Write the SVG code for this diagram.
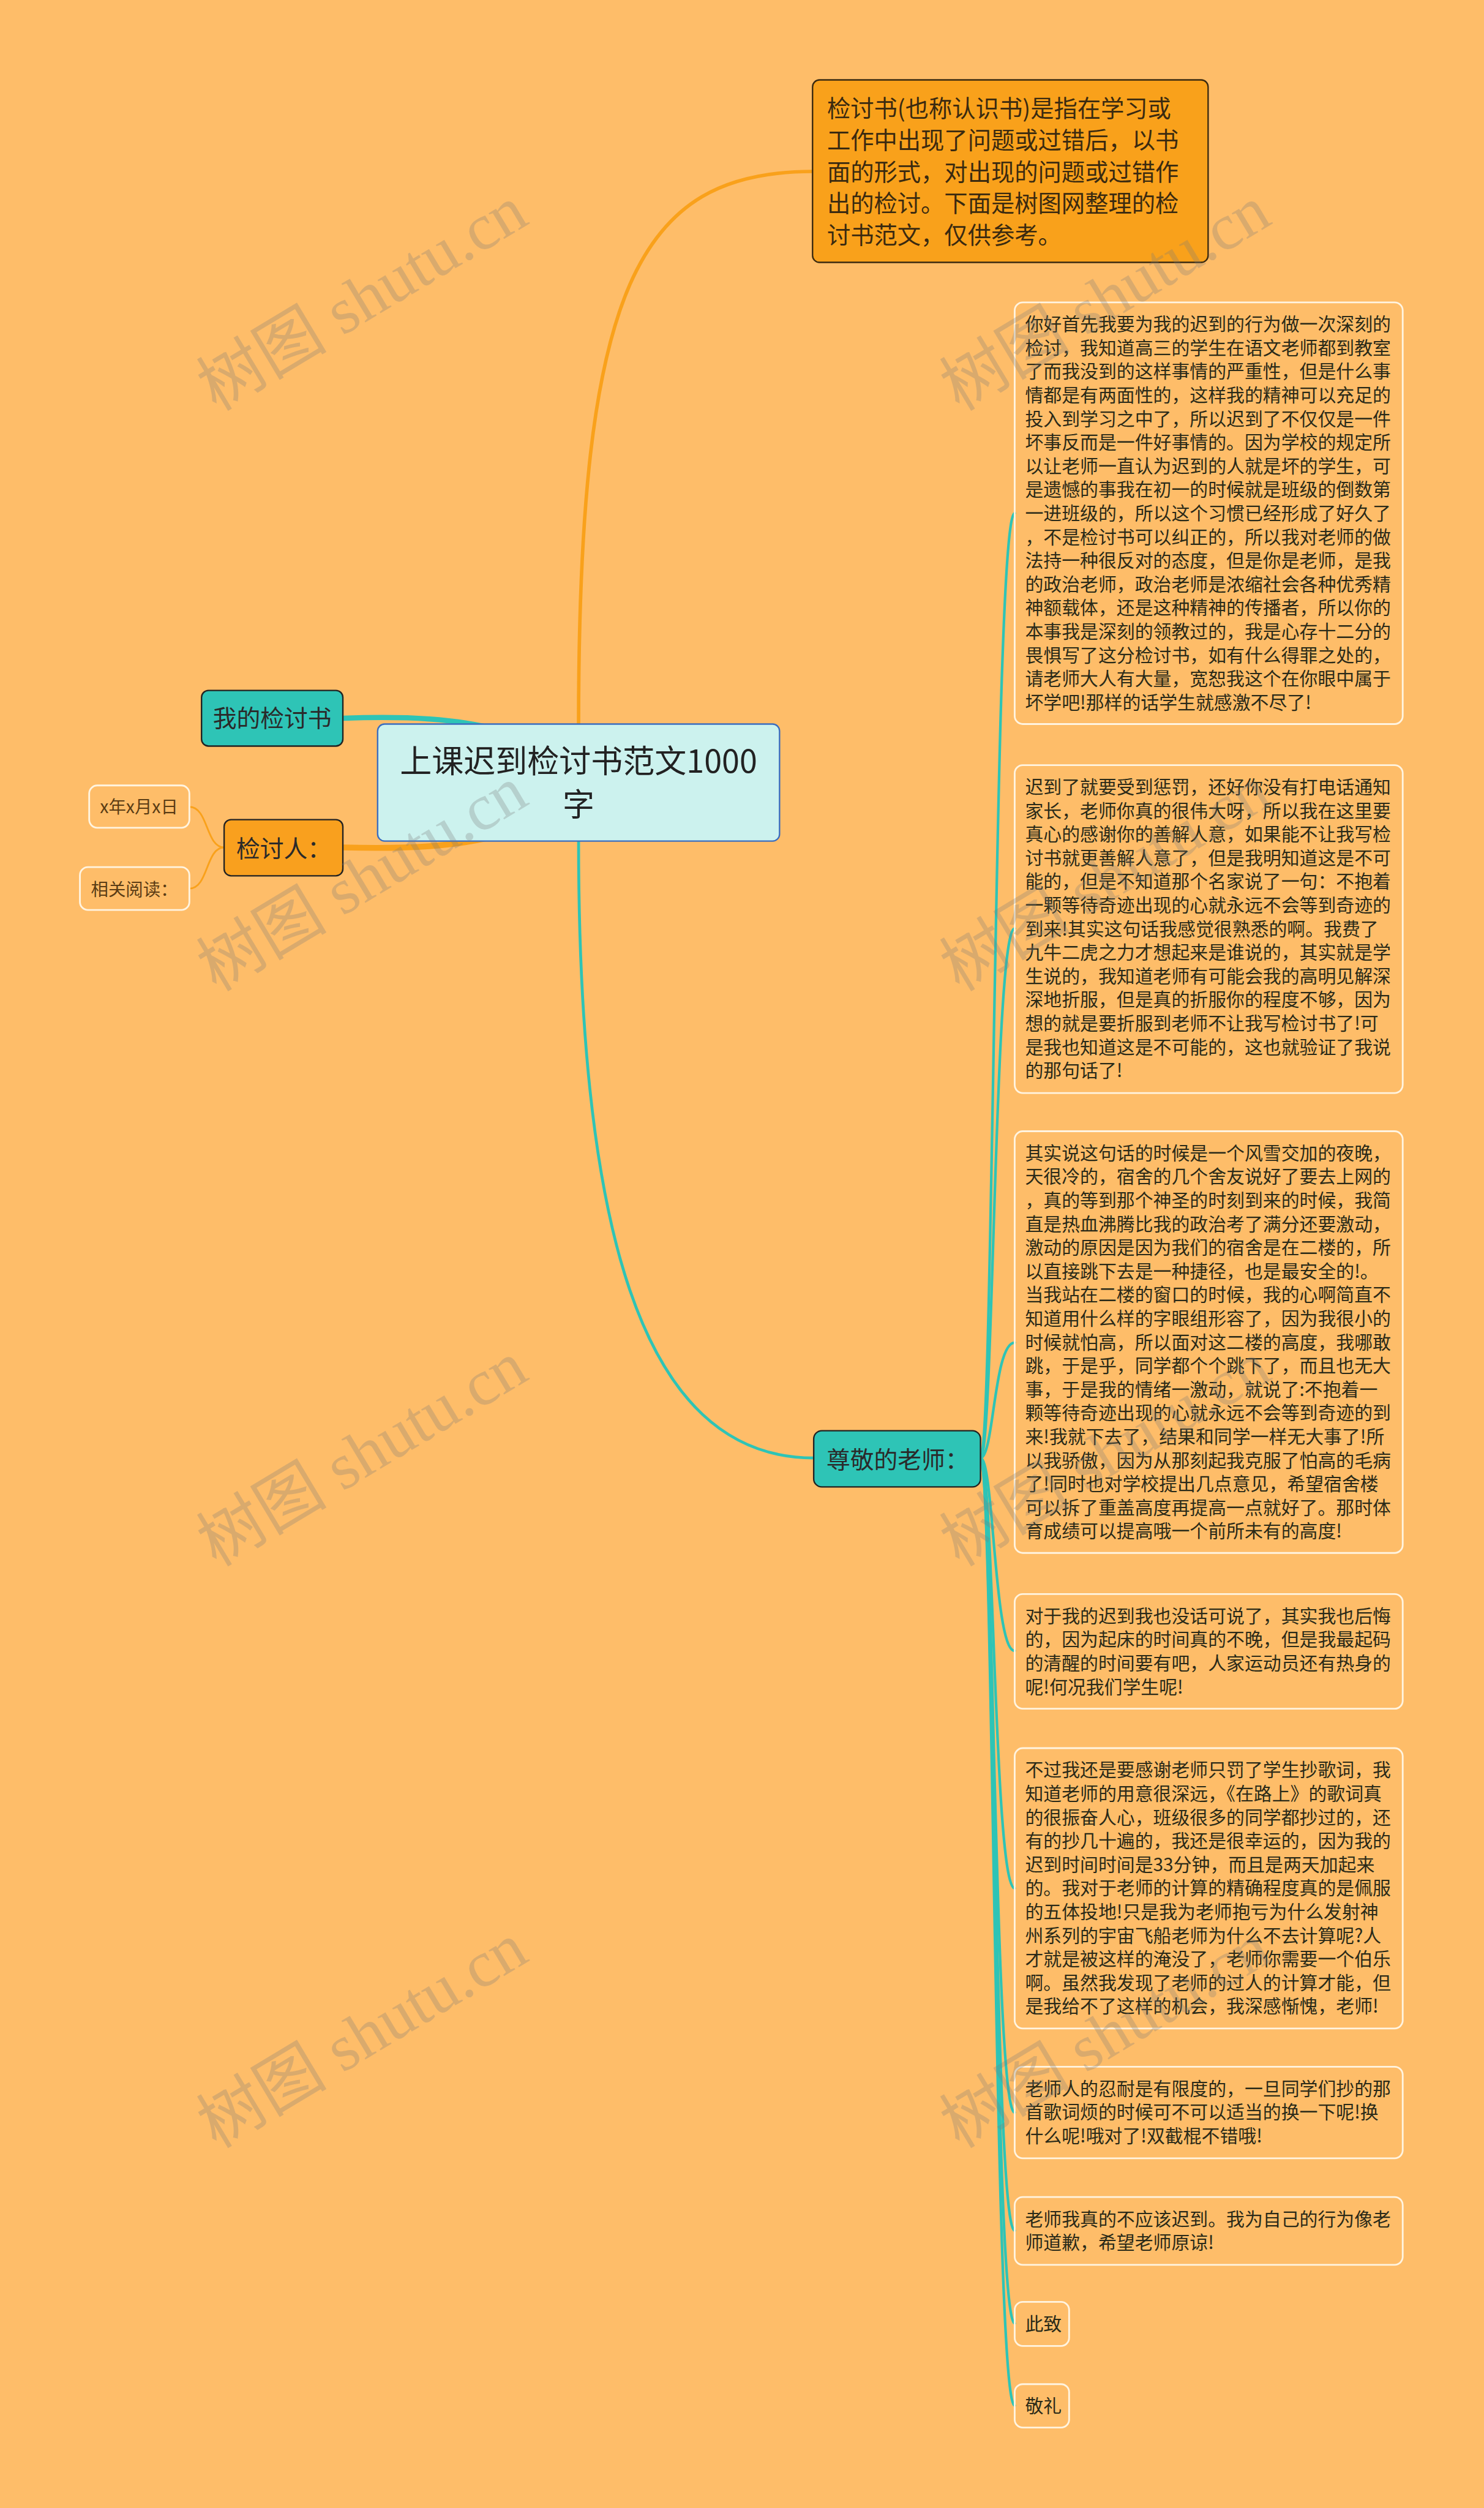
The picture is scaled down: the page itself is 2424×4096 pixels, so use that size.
<svg xmlns="http://www.w3.org/2000/svg" width="2424" height="4096" viewBox="0 0 2424 4096">
<style>
.cjk{font-family:"Noto Sans CJK SC","Noto Sans",sans-serif}
.body{font-size:31.6px;fill:#2a2a18}
.leaf{fill:none;stroke:#FFF4E0;stroke-width:3}
.teal{fill:none;stroke:#2EC4B6;stroke-linecap:round}
.org{fill:none;stroke:#F9A11B;stroke-linecap:round}
.wm{font-family:"Liberation Serif","Noto Sans CJK SC",serif;font-size:113px;fill:#7a7a7a;fill-opacity:0.28;text-anchor:middle}
</style>
<rect x="0" y="0" width="2424" height="4096" fill="#FEBD69"/>
<g transform="scale(0.946)">
<g id="connectors">
<path class="org" stroke-width="6" d="M999 1250 C999 500 1100 296 1403 296"/>
<path class="teal" stroke-width="5" d="M999 1452 C999 2100 1100 2517 1405 2517"/>
<path class="teal" stroke-width="9" d="M592 1240 C700 1236 790 1240 870 1262"/>
<path class="org" stroke-width="10" d="M592 1463 C700 1466 790 1462 870 1440"/>
<path class="org" stroke-width="3" d="M387 1463 C355 1463 360 1393 327 1393"/>
<path class="org" stroke-width="3" d="M387 1463 C355 1463 360 1534 327 1534"/>
<path class="teal" stroke-width="4.5" d="M1693 2517 C1716 2517 1716 886 1752 886"/>
<path class="teal" stroke-width="4.5" d="M1693 2517 C1716 2517 1716 1603 1752 1603"/>
<path class="teal" stroke-width="4.5" d="M1693 2517 C1716 2517 1716 2318 1752 2318"/>
<path class="teal" stroke-width="4.5" d="M1693 2517 C1716 2517 1716 2850 1752 2850"/>
<path class="teal" stroke-width="4.5" d="M1693 2517 C1716 2517 1716 3260 1752 3260"/>
<path class="teal" stroke-width="4.5" d="M1693 2517 C1716 2517 1716 3647 1752 3647"/>
<path class="teal" stroke-width="4.5" d="M1693 2517 C1716 2517 1716 3851 1752 3851"/>
<path class="teal" stroke-width="4.5" d="M1693 2517 C1716 2517 1716 4011 1752 4011"/>
<path class="teal" stroke-width="4.5" d="M1693 2517 C1716 2517 1716 4153 1752 4153"/>
</g>

<g id="root">
<rect x="652" y="1250" width="694" height="202" rx="12" fill="#CCF2EE" stroke="#3B6DBF" stroke-width="2.5"/>
<text class="cjk" x="999" y="1334" font-size="55" fill="#222" text-anchor="middle">上课迟到检讨书范文1000</text>
<text class="cjk" x="999" y="1409" font-size="55" fill="#222" text-anchor="middle">字</text>
</g>

<g id="n-intro">
<rect x="1403" y="138" width="683" height="315" rx="12" fill="#F9A11B" stroke="#3a2a10" stroke-width="2.5"/>
<text class="cjk" font-size="40.5" fill="#3a2a10">
<tspan x="1428" y="202">检讨书(也称认识书)是指在学习或</tspan>
<tspan x="1428" y="257">工作中出现了问题或过错后，以书</tspan>
<tspan x="1428" y="312">面的形式，对出现的问题或过错作</tspan>
<tspan x="1428" y="366">出的检讨。下面是树图网整理的检</tspan>
<tspan x="1428" y="421">讨书范文，仅供参考。</tspan>
</text>
</g>

<g id="n-mine">
<rect x="348" y="1192" width="244" height="96" rx="12" fill="#2EC4B6" stroke="#222" stroke-width="2.5"/>
<text class="cjk" x="470" y="1255" font-size="41" fill="#2a2a2a" text-anchor="middle">我的检讨书</text>
</g>

<g id="n-person">
<rect x="387" y="1415" width="205" height="97" rx="12" fill="#F9A01E" stroke="#222" stroke-width="2.5"/>
<text class="cjk" x="490" y="1480" font-size="41" fill="#2a2a2a" text-anchor="middle">检讨人：</text>
</g>

<g id="n-date">
<rect class="leaf" x="154" y="1356" width="173" height="73" rx="14"/>
<text class="cjk" x="240" y="1404" font-size="30" fill="#5a3c14" text-anchor="middle">x年x月x日</text>
</g>

<g id="n-related">
<rect class="leaf" x="138" y="1497" width="189" height="74" rx="14"/>
<text class="cjk" x="232" y="1546" font-size="30" fill="#5a3c14" text-anchor="middle">相关阅读：</text>
</g>

<g id="n-teacher">
<rect x="1405" y="2470" width="288" height="97" rx="14" fill="#2EC4B6" stroke="#222" stroke-width="2.5"/>
<text class="cjk" x="1427" y="2535" font-size="41" fill="#2a2a2a">尊敬的老师：</text>
</g>

<g id="c1">
<rect class="leaf" x="1752" y="522" width="670" height="728" rx="14"/>
<text class="cjk body">
<tspan x="1770" y="571">你好首先我要为我的迟到的行为做一次深刻的</tspan>
<tspan x="1770" y="611.8">检讨，我知道高三的学生在语文老师都到教室</tspan>
<tspan x="1770" y="652.6">了而我没到的这样事情的严重性，但是什么事</tspan>
<tspan x="1770" y="693.4">情都是有两面性的，这样我的精神可以充足的</tspan>
<tspan x="1770" y="734.2">投入到学习之中了，所以迟到了不仅仅是一件</tspan>
<tspan x="1770" y="775">坏事反而是一件好事情的。因为学校的规定所</tspan>
<tspan x="1770" y="815.8">以让老师一直认为迟到的人就是坏的学生，可</tspan>
<tspan x="1770" y="856.6">是遗憾的事我在初一的时候就是班级的倒数第</tspan>
<tspan x="1770" y="897.4">一进班级的，所以这个习惯已经形成了好久了</tspan>
<tspan x="1770" y="938.2">，不是检讨书可以纠正的，所以我对老师的做</tspan>
<tspan x="1770" y="979">法持一种很反对的态度，但是你是老师，是我</tspan>
<tspan x="1770" y="1019.8">的政治老师，政治老师是浓缩社会各种优秀精</tspan>
<tspan x="1770" y="1060.6">神额载体，还是这种精神的传播者，所以你的</tspan>
<tspan x="1770" y="1101.4">本事我是深刻的领教过的，我是心存十二分的</tspan>
<tspan x="1770" y="1142.2">畏惧写了这分检讨书，如有什么得罪之处的，</tspan>
<tspan x="1770" y="1183">请老师大人有大量，宽恕我这个在你眼中属于</tspan>
<tspan x="1770" y="1223.8">坏学吧!那样的话学生就感激不尽了!</tspan>
</text>
</g>

<g id="c2">
<rect class="leaf" x="1752" y="1321" width="670" height="566" rx="14"/>
<text class="cjk body">
<tspan x="1770" y="1370">迟到了就要受到惩罚，还好你没有打电话通知</tspan>
<tspan x="1770" y="1410.8">家长，老师你真的很伟大呀，所以我在这里要</tspan>
<tspan x="1770" y="1451.6">真心的感谢你的善解人意，如果能不让我写检</tspan>
<tspan x="1770" y="1492.4">讨书就更善解人意了，但是我明知道这是不可</tspan>
<tspan x="1770" y="1533.2">能的，但是不知道那个名家说了一句：不抱着</tspan>
<tspan x="1770" y="1574">一颗等待奇迹出现的心就永远不会等到奇迹的</tspan>
<tspan x="1770" y="1614.8">到来!其实这句话我感觉很熟悉的啊。我费了</tspan>
<tspan x="1770" y="1655.6">九牛二虎之力才想起来是谁说的，其实就是学</tspan>
<tspan x="1770" y="1696.4">生说的，我知道老师有可能会我的高明见解深</tspan>
<tspan x="1770" y="1737.2">深地折服，但是真的折服你的程度不够，因为</tspan>
<tspan x="1770" y="1778">想的就是要折服到老师不让我写检讨书了!可</tspan>
<tspan x="1770" y="1818.8">是我也知道这是不可能的，这也就验证了我说</tspan>
<tspan x="1770" y="1859.6">的那句话了!</tspan>
</text>
</g>

<g id="c3">
<rect class="leaf" x="1752" y="1953" width="670" height="728" rx="14"/>
<text class="cjk body">
<tspan x="1770" y="2002">其实说这句话的时候是一个风雪交加的夜晚，</tspan>
<tspan x="1770" y="2042.8">天很冷的，宿舍的几个舍友说好了要去上网的</tspan>
<tspan x="1770" y="2083.6">，真的等到那个神圣的时刻到来的时候，我简</tspan>
<tspan x="1770" y="2124.4">直是热血沸腾比我的政治考了满分还要激动，</tspan>
<tspan x="1770" y="2165.2">激动的原因是因为我们的宿舍是在二楼的，所</tspan>
<tspan x="1770" y="2206">以直接跳下去是一种捷径，也是最安全的!。</tspan>
<tspan x="1770" y="2246.8">当我站在二楼的窗口的时候，我的心啊简直不</tspan>
<tspan x="1770" y="2287.6">知道用什么样的字眼组形容了，因为我很小的</tspan>
<tspan x="1770" y="2328.4">时候就怕高，所以面对这二楼的高度，我哪敢</tspan>
<tspan x="1770" y="2369.2">跳，于是乎，同学都个个跳下了，而且也无大</tspan>
<tspan x="1770" y="2410">事，于是我的情绪一激动，就说了:不抱着一</tspan>
<tspan x="1770" y="2450.8">颗等待奇迹出现的心就永远不会等到奇迹的到</tspan>
<tspan x="1770" y="2491.6">来!我就下去了，结果和同学一样无大事了!所</tspan>
<tspan x="1770" y="2532.4">以我骄傲，因为从那刻起我克服了怕高的毛病</tspan>
<tspan x="1770" y="2573.2">了!同时也对学校提出几点意见，希望宿舍楼</tspan>
<tspan x="1770" y="2614">可以拆了重盖高度再提高一点就好了。那时体</tspan>
<tspan x="1770" y="2654.8">育成绩可以提高哦一个前所未有的高度!</tspan>
</text>
</g>

<g id="c4">
<rect class="leaf" x="1752" y="2752" width="670" height="198" rx="14"/>
<text class="cjk body">
<tspan x="1770" y="2801">对于我的迟到我也没话可说了，其实我也后悔</tspan>
<tspan x="1770" y="2841.8">的，因为起床的时间真的不晚，但是我最起码</tspan>
<tspan x="1770" y="2882.6">的清醒的时间要有吧，人家运动员还有热身的</tspan>
<tspan x="1770" y="2923.4">呢!何况我们学生呢!</tspan>
</text>
</g>

<g id="c5">
<rect class="leaf" x="1752" y="3018" width="670" height="484" rx="14"/>
<text class="cjk body">
<tspan x="1770" y="3067">不过我还是要感谢老师只罚了学生抄歌词，我</tspan>
<tspan x="1770" y="3107.8">知道老师的用意很深远，《在路上》的歌词真</tspan>
<tspan x="1770" y="3148.6">的很振奋人心，班级很多的同学都抄过的，还</tspan>
<tspan x="1770" y="3189.4">有的抄几十遍的，我还是很幸运的，因为我的</tspan>
<tspan x="1770" y="3230.2">迟到时间时间是33分钟，而且是两天加起来</tspan>
<tspan x="1770" y="3271">的。我对于老师的计算的精确程度真的是佩服</tspan>
<tspan x="1770" y="3311.8">的五体投地!只是我为老师抱亏为什么发射神</tspan>
<tspan x="1770" y="3352.6">州系列的宇宙飞船老师为什么不去计算呢?人</tspan>
<tspan x="1770" y="3393.4">才就是被这样的淹没了，老师你需要一个伯乐</tspan>
<tspan x="1770" y="3434.2">啊。虽然我发现了老师的过人的计算才能，但</tspan>
<tspan x="1770" y="3475">是我给不了这样的机会，我深感惭愧，老师!</tspan>
</text>
</g>

<g id="c6">
<rect class="leaf" x="1752" y="3568" width="670" height="158" rx="14"/>
<text class="cjk body">
<tspan x="1770" y="3617">老师人的忍耐是有限度的，一旦同学们抄的那</tspan>
<tspan x="1770" y="3657.8">首歌词烦的时候可不可以适当的换一下呢!换</tspan>
<tspan x="1770" y="3698.6">什么呢!哦对了!双截棍不错哦!</tspan>
</text>
</g>

<g id="c7">
<rect class="leaf" x="1752" y="3793" width="670" height="117" rx="14"/>
<text class="cjk body">
<tspan x="1770" y="3842">老师我真的不应该迟到。我为自己的行为像老</tspan>
<tspan x="1770" y="3882.8">师道歉，希望老师原谅!</tspan>
</text>
</g>

<g id="c8">
<rect class="leaf" x="1752" y="3974" width="94" height="76" rx="14"/>
<text class="cjk body" x="1770" y="4023">此致</text>
</g>

<g id="c9">
<rect class="leaf" x="1752" y="4116" width="94" height="75" rx="14"/>
<text class="cjk body" x="1770" y="4165">敬礼</text>
</g>

<g id="watermarks">
<text class="wm" transform="translate(645 548) rotate(-31)">树图 shutu.cn</text>
<text class="wm" transform="translate(1928 548) rotate(-31)">树图 shutu.cn</text>
<text class="wm" transform="translate(645 1550) rotate(-31)">树图 shutu.cn</text>
<text class="wm" transform="translate(1928 1550) rotate(-31)">树图 shutu.cn</text>
<text class="wm" transform="translate(645 2543) rotate(-31)">树图 shutu.cn</text>
<text class="wm" transform="translate(1928 2543) rotate(-31)">树图 shutu.cn</text>
<text class="wm" transform="translate(645 3547) rotate(-31)">树图 shutu.cn</text>
<text class="wm" transform="translate(1928 3547) rotate(-31)">树图 shutu.cn</text>
</g>
</g>
</svg>
